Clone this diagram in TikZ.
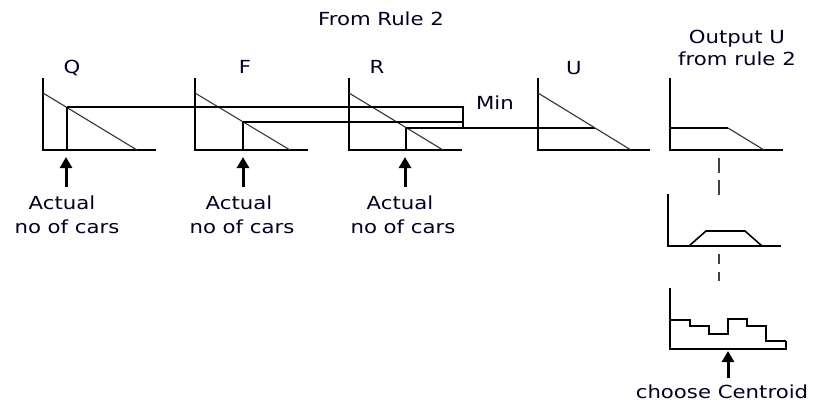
\documentclass[tikz,border=0pt]{standalone}
\usepackage{fontspec}
\setmainfont{DejaVu Sans}[FakeStretch=1.18]
\usetikzlibrary{arrows.meta}
\begin{document}
\begin{tikzpicture}[x=1pt,y=-1pt,
  txt/.style={font=\fontsize{18}{21}\selectfont, inner sep=0pt, anchor=base, text=black!85!blue},
  ax/.style={line width=1.6pt, black},
  diag/.style={line width=1.1pt, black!80},
  hl/.style={line width=1.6pt, black},
  arr/.style={line width=3pt, -{Triangle[width=12pt,length=11pt]}},
  dsh/.style={line width=2pt, black!75}]
\useasboundingbox (0,0) rectangle (814,405);

% titles
\node[txt] (t1) at (381,25) {From Rule 2};
\node[txt] (t2) at (737,43) {Output U};
\node[txt] (t3) at (737,65) {from rule 2};
\node[txt] (lq) at (72,73) {Q};
\node[txt] (lf) at (245,73) {F};
\node[txt] (lr) at (377,73) {R};
\node[txt] (lu) at (574,74) {U};
\node[txt] (min) at (495,109) {Min};

% Q
\draw[ax] (43,78) -- (43,150) -- (156,150);
\draw[diag] (43,93) -- (137,150);
\draw[hl] (67,150) -- (67,107);
% F
\draw[ax] (195,78) -- (195,150) -- (308,150);
\draw[diag] (195,93) -- (290,150);
\draw[hl] (243,150) -- (243,122);
% R
\draw[ax] (349,78) -- (349,150) -- (462,150);
\draw[diag] (349,93) -- (443,150);
\draw[hl] (406,150) -- (406,128);
% Min lines
\draw[hl] (67,107) -- (463,107) -- (463,128);
\draw[hl] (243,122) -- (463,122);
\draw[hl] (406,128) -- (595,128);
% U
\draw[ax] (538,78) -- (538,150) -- (650,150);
\draw[diag] (538,93) -- (631,150);

% output 1
\draw[ax] (670,78) -- (670,150) -- (783,150);
\draw[hl] (670,128) -- (728,128);
\draw[diag] (728,128) -- (764,150);
% dashes
\draw[dsh] (719,158) -- (719,173);
\draw[dsh] (719,180) -- (719,195);
\draw[dsh] (719,254) -- (719,264);
\draw[dsh] (719,272) -- (719,281);
% output 2
\draw[ax] (668,194) -- (668,246) -- (781,246);
\draw[hl] (689,246) -- (706,231) -- (745,231) -- (762,246);
% output 3
\draw[ax] (670,288) -- (670,349) -- (786,349) -- (786,341);
\draw[hl] (670,320) -- (690,320) -- (690,326) -- (709,326) -- (709,334) -- (728,334) -- (728,319) -- (747,319) -- (747,326) -- (766,326) -- (766,341) -- (786,341);

% arrows and labels
\coordinate (qa) at (66,187); \coordinate (qb) at (66,157);
\coordinate (fa) at (243,187); \coordinate (fb) at (243,157);
\coordinate (ra) at (405,187); \coordinate (rb) at (405,157);
\coordinate (ca) at (728,378); \coordinate (cb) at (728,351);
\draw[arr] (qa) -- (qb);
\draw[arr] (fa) -- (fb);
\draw[arr] (ra) -- (rb);
\draw[arr] (ca) -- (cb);

\node[txt] (a1) at (62,209) {Actual};
\node[txt] (n1) at (67,233) {no of cars};
\node[txt] (a2) at (239,209) {Actual};
\node[txt] (n2) at (242,233) {no of cars};
\node[txt] (a3) at (400,209) {Actual};
\node[txt] (n3) at (403,233) {no of cars};
\node[txt] (cc) at (722,398) {choose Centroid};
\end{tikzpicture}
\end{document}
